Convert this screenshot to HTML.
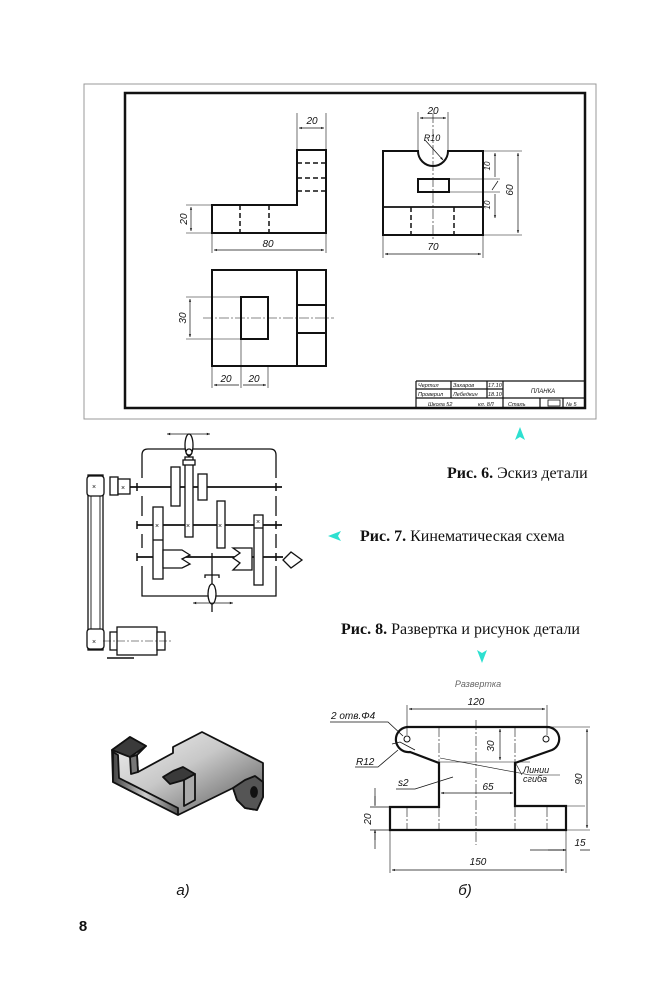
<!DOCTYPE html>
<html><head><meta charset="utf-8"><style>
html,body{margin:0;padding:0;background:#fff;}
svg{display:block;}
.t{font-family:"Liberation Sans","DejaVu Sans",sans-serif;font-style:italic;fill:#111;}
.cap{font-family:"Liberation Serif","DejaVu Serif",serif;font-size:16px;fill:#111;}
</style></head><body>
<svg width="659" height="1000" viewBox="0 0 659 1000" xmlns="http://www.w3.org/2000/svg">
<defs>
<marker id="a" viewBox="0 0 10 10" refX="10" refY="5" markerWidth="6" markerHeight="4" orient="auto-start-reverse"><path d="M0,1 L10,5 L0,9 z" fill="#111"/></marker>
<linearGradient id="g" x1="0" y1="0" x2="1" y2="1"><stop offset="0" stop-color="#f2f2f2"/><stop offset="0.45" stop-color="#c8c8c8"/><stop offset="1" stop-color="#555"/></linearGradient>
<linearGradient id="g2" x1="0" y1="0" x2="1" y2="0"><stop offset="0" stop-color="#444"/><stop offset="0.5" stop-color="#ccc"/><stop offset="1" stop-color="#555"/></linearGradient>
</defs>

<!-- Fig 6 -->
<rect x="84" y="84" width="512" height="335" fill="none" stroke="#999" stroke-width="1"/>
<rect x="125" y="93" width="460" height="315" fill="none" stroke="#111" stroke-width="2.5"/>
<g stroke="#111" fill="none">
<path d="M212,233 V205 H297 V150 H326 V233 Z" stroke-width="2"/>
<path d="M240,205V233M269,205V233M297,163H326M297,178H326M297,191H326" stroke-width="1.5" stroke-dasharray="5,3"/>
<path d="M297,150V113M326,150V113M212,205H186M212,233H186M212,233V253M326,233V253" stroke-width="0.6"/>
<path d="M299,128H324" stroke-width="0.7" marker-start="url(#a)" marker-end="url(#a)"/>
<path d="M191,207V231" stroke-width="0.7" marker-start="url(#a)" marker-end="url(#a)"/>
<path d="M214,250H324" stroke-width="0.7" marker-start="url(#a)" marker-end="url(#a)"/>

<path d="M383,151H418 A15,15 0 0 0 448,151 H483 V235 H383 Z" stroke-width="2"/>
<path d="M383,207H483" stroke-width="1.8"/>
<rect x="418" y="179" width="31" height="13" stroke-width="2"/>
<path d="M411,207V235M454,207V235" stroke-width="1.5" stroke-dasharray="5,3"/>
<path d="M433,113V240" stroke-width="0.6" stroke-dasharray="10,2,2,2"/>
<path d="M418,151V112M448,151V112M483,151H522M449,179H500M449,192H500M483,235H522M383,235V258M483,235V258" stroke-width="0.6"/>
<path d="M420,118H446" stroke-width="0.7" marker-start="url(#a)" marker-end="url(#a)"/>
<path d="M425,140L443,160" stroke-width="0.7" marker-end="url(#a)"/>
<path d="M495,153V177M495,194V218" stroke-width="0.7" marker-start="url(#a)" marker-end="url(#a)"/>
<path d="M492,190L498,181" stroke-width="0.7"/>
<path d="M518,153V233" stroke-width="0.7" marker-start="url(#a)" marker-end="url(#a)"/>
<path d="M385,254H481" stroke-width="0.7" marker-start="url(#a)" marker-end="url(#a)"/>

<rect x="212" y="270" width="114" height="96" stroke-width="2"/>
<path d="M297,270V366M297,305H326M297,333H326" stroke-width="2"/>
<rect x="241" y="297" width="27" height="42" stroke-width="2"/>
<path d="M212,297H241M212,339H241M241,339V366M268,366V388M212,366V388M241,366V388M212,297H186M212,339H186" stroke-width="0.6"/>
<path d="M203,318H334" stroke-width="0.6" stroke-dasharray="10,2,2,2"/>
<path d="M190,299V337" stroke-width="0.7" marker-start="url(#a)" marker-end="url(#a)"/>
<path d="M214,385H239M243,385H266" stroke-width="0.7" marker-start="url(#a)" marker-end="url(#a)"/>

<path d="M416,381H584M416,389H503M416,398H584M416,381V408M451,381V398M487,381V398M503,381V408M540,398V408M563,398V408" stroke-width="1.2"/>
<rect x="548" y="400" width="12" height="6" stroke-width="0.8"/>
</g>
<g class="t" font-size="10">
<text x="312" y="124" text-anchor="middle">20</text>
<text x="268" y="247" text-anchor="middle">80</text>
<text transform="translate(187,219) rotate(-90)" text-anchor="middle">20</text>
<text x="433" y="114" text-anchor="middle">20</text>
<text x="432" y="141" text-anchor="middle" font-size="9">R10</text>
<text transform="translate(490,166) rotate(-90)" text-anchor="middle" font-size="8">10</text>
<text transform="translate(490,205) rotate(-90)" text-anchor="middle" font-size="8">10</text>
<text transform="translate(513,190) rotate(-90)" text-anchor="middle">60</text>
<text x="433" y="250" text-anchor="middle">70</text>
<text transform="translate(186,318) rotate(-90)" text-anchor="middle">30</text>
<text x="226" y="382" text-anchor="middle">20</text>
<text x="254" y="382" text-anchor="middle">20</text>
<g font-size="5.5">
<text x="418" y="387">Чертил</text><text x="453" y="387">Захаров</text><text x="488" y="387">17.10</text>
<text x="418" y="396">Проверил</text><text x="453" y="396">Лебедкин</text><text x="488" y="396">18.10</text>
<text x="428" y="406">Школа 52</text><text x="478" y="406">кл. 8Л</text><text x="508" y="406">Сталь</text><text x="566" y="406">№ 5</text>
<text x="543" y="393" text-anchor="middle" font-size="6">ПЛАНКА</text>
</g>
</g>

<!-- Fig 7 kinematic -->
<g stroke="#111" fill="none" stroke-width="1.3">
<path d="M142,478 V455 Q142,449 148,449 H270 Q276,449 276,455 V478 M142,496 V516 M142,534 V548 M142,566 V596 H276 V566 M276,534 V548 M276,496 V516"/>
<path d="M130,487H282M137,525H282M137,557H283" stroke-width="1.8"/>
<path d="M137,483V491M276,483V491M137,521V529M276,521V529M137,553V561M276,553V561" stroke-width="1.5"/>
<rect x="171" y="467" width="9" height="39" fill="#fff"/>
<rect x="185" y="457" width="8" height="80" fill="#fff"/>
<rect x="198" y="474" width="9" height="26" fill="#fff"/>
<rect x="183" y="460" width="12" height="5" fill="#fff"/>
<ellipse cx="189" cy="445" rx="4" ry="11" fill="#fff"/>
<circle cx="189" cy="452" r="3" fill="#fff"/>
<path d="M167,434H210" stroke-width="0.8" marker-start="url(#a)" marker-end="url(#a)"/>
<rect x="153" y="507" width="10" height="72" fill="#fff"/>
<path d="M153,540H163"/>
<rect x="217" y="501" width="8" height="47" fill="#fff"/>
<rect x="254" y="515" width="9" height="70" fill="#fff"/>
<path d="M254,528H263"/>
<path d="M163,550H182L190,555L182,559L190,564L182,568H163Z" fill="#fff"/>
<path d="M252,548H233L240,553L233,558L240,563L233,570H252Z" fill="#fff"/>
<path d="M283,560L291,552L302,560L291,568Z" fill="#fff"/>
<path d="M212,553V612M205,578V575H219V578"/>
<ellipse cx="212" cy="594" rx="4" ry="10" fill="#fff"/>
<path d="M193,603H233" stroke-width="0.8" marker-start="url(#a)" marker-end="url(#a)"/>
<rect x="88" y="475" width="15" height="175" fill="#fff"/>
<path d="M91,475V650M100,475V650" stroke-width="0.9"/>
<rect x="87" y="476" width="17" height="20" rx="3" fill="#fff"/>
<rect x="87" y="629" width="17" height="20" rx="3" fill="#fff"/>
<rect x="110" y="477" width="8" height="18" fill="#fff"/>
<rect x="118" y="479" width="12" height="15" fill="#fff"/>
<rect x="110" y="632" width="8" height="18" fill="#fff"/>
<rect x="117" y="627" width="40" height="28" fill="#fff"/>
<rect x="157" y="632" width="8" height="18" fill="#fff"/>
<path d="M103,641H172" stroke-width="0.6" stroke-dasharray="8,2,2,2"/>
<path d="M107,658H134" stroke-width="1.5"/>
</g>
<g font-family="Liberation Sans,sans-serif" font-size="7" fill="#111">
<text x="92" y="489">×</text><text x="121" y="490">×</text><text x="92" y="644">×</text>
<text x="155" y="528">×</text><text x="186" y="528">×</text><text x="218" y="528">×</text><text x="256" y="524">×</text>
</g>

<!-- captions -->
<path d="M520,427 L515,440 L520,437 L525,440 Z" fill="#2de0d0"/>
<text x="447" y="478" class="cap"><tspan font-weight="bold">Рис. 6.</tspan> Эскиз детали</text>
<path d="M328,536 L341,531 L338,536 L341,541 Z" fill="#2de0d0"/>
<text x="360" y="541" class="cap"><tspan font-weight="bold">Рис. 7.</tspan> Кинематическая схема</text>
<text x="341" y="634" class="cap"><tspan font-weight="bold">Рис. 8.</tspan> Развертка и рисунок детали</text>
<path d="M482,663 L477,650 L482,653 L487,650 Z" fill="#2de0d0"/>

<!-- 3D part -->
<g stroke="#111" stroke-width="1.8" stroke-linejoin="round">
<path d="M112,750 L130,737 L146,746 L137,755 L138,772 L173,753 L173,747 L202,732 L263,763 L263,797 L257,810 L245,808 L237,800 L233,788 L178,815 L113,782 Z" fill="url(#g)"/>
<path d="M113,752 L118,755 L119,778 L178,808 L178,815 L113,782 Z" fill="url(#g2)"/>
<path d="M112,750 L130,737 L146,746 L130,757 Z" fill="#3a3a3a"/>
<path d="M130,757 L137,755 L138,772 L131,774 Z" fill="#777"/>
<path d="M163,777 L173,771 L183,767 L195,774 L184,780 L170,784 Z" fill="#3a3a3a"/>
<path d="M184,780 L195,774 L195,800 L184,806 Z" fill="#aaa"/>
<path d="M233,788 L245,780 L255,776 L263,782 L263,797 L257,810 L245,808 L237,800 Z" fill="#555"/>
<ellipse cx="254" cy="792" rx="3" ry="5" fill="#111"/>
</g>

<!-- Fig 8 development -->
<text x="478" y="687" text-anchor="middle" class="t" font-size="9" style="fill:#666">Развертка</text>
<g stroke="#111" fill="none">
<path d="M407,727 H547 A12,12 0 0 1 552,750 L515,763 V806 H566 V830 H390 V807 H439 V763 L410,752 A12,12 0 0 1 407,727 Z" stroke-width="2.2"/>
<circle cx="407" cy="739" r="3"/><circle cx="546" cy="739" r="3"/>
<path d="M476,720V845" stroke-width="0.6" stroke-dasharray="10,2,2,2"/>
<path d="M439,727V830M515,727V830M407,807V830M547,807V830" stroke-width="0.6" stroke-dasharray="10,2,2,2"/>
<path d="M407,735V705M547,735V705M390,830V873M566,830V873M566,806H585M566,830H590M547,727H590M498,762H520M439,762H530" stroke-width="0.6"/>
<path d="M409,709H545" stroke-width="0.7" marker-start="url(#a)" marker-end="url(#a)"/>
<path d="M500,729V760" stroke-width="0.7" marker-start="url(#a)" marker-end="url(#a)"/>
<path d="M587,729V828" stroke-width="0.7" marker-start="url(#a)" marker-end="url(#a)"/>
<path d="M441,793H513" stroke-width="0.7" marker-start="url(#a)" marker-end="url(#a)"/>
<path d="M375,788V805M375,849V832M370,807H390M370,830H390" stroke-width="0.7"/>
<path d="M375,796V806M375,840V830" stroke-width="0.7" marker-end="url(#a)"/>
<path d="M392,870H564" stroke-width="0.7" marker-start="url(#a)" marker-end="url(#a)"/>
<path d="M530,850H566M590,850H580" stroke-width="0.7"/>
<path d="M548,850H566" stroke-width="0.7" marker-end="url(#a)"/>
<path d="M330,722H388L403,736M392,744L400,742L415,750" stroke-width="0.8"/>
<path d="M355,767H378L398,750" stroke-width="0.8"/>
<path d="M396,789H415L453,777" stroke-width="0.8"/>
<path d="M440,758L530,775H560M515,762L522,775" stroke-width="0.6"/>
</g>
<g class="t" font-size="10">
<text x="476" y="705" text-anchor="middle">120</text>
<text transform="translate(494,746) rotate(-90)" text-anchor="middle">30</text>
<text transform="translate(582,779) rotate(-90)" text-anchor="middle">90</text>
<text x="488" y="790" text-anchor="middle">65</text>
<text transform="translate(371,819) rotate(-90)" text-anchor="middle">20</text>
<text x="580" y="846" text-anchor="middle">15</text>
<text x="478" y="865" text-anchor="middle">150</text>
<text x="331" y="719" font-size="10">2 отв.Φ4</text>
<text x="356" y="765">R12</text>
<text x="398" y="786">s2</text>
<text x="523" y="773" font-size="9">Линии</text>
<text x="523" y="782" font-size="9">сгиба</text>
</g>
<text x="183" y="895" text-anchor="middle" class="t" font-size="15">а)</text>
<text x="465" y="895" text-anchor="middle" class="t" font-size="15">б)</text>
<text x="83" y="931" text-anchor="middle" font-family="Liberation Sans,sans-serif" font-weight="bold" font-size="15" fill="#111">8</text>
</svg>
</body></html>
